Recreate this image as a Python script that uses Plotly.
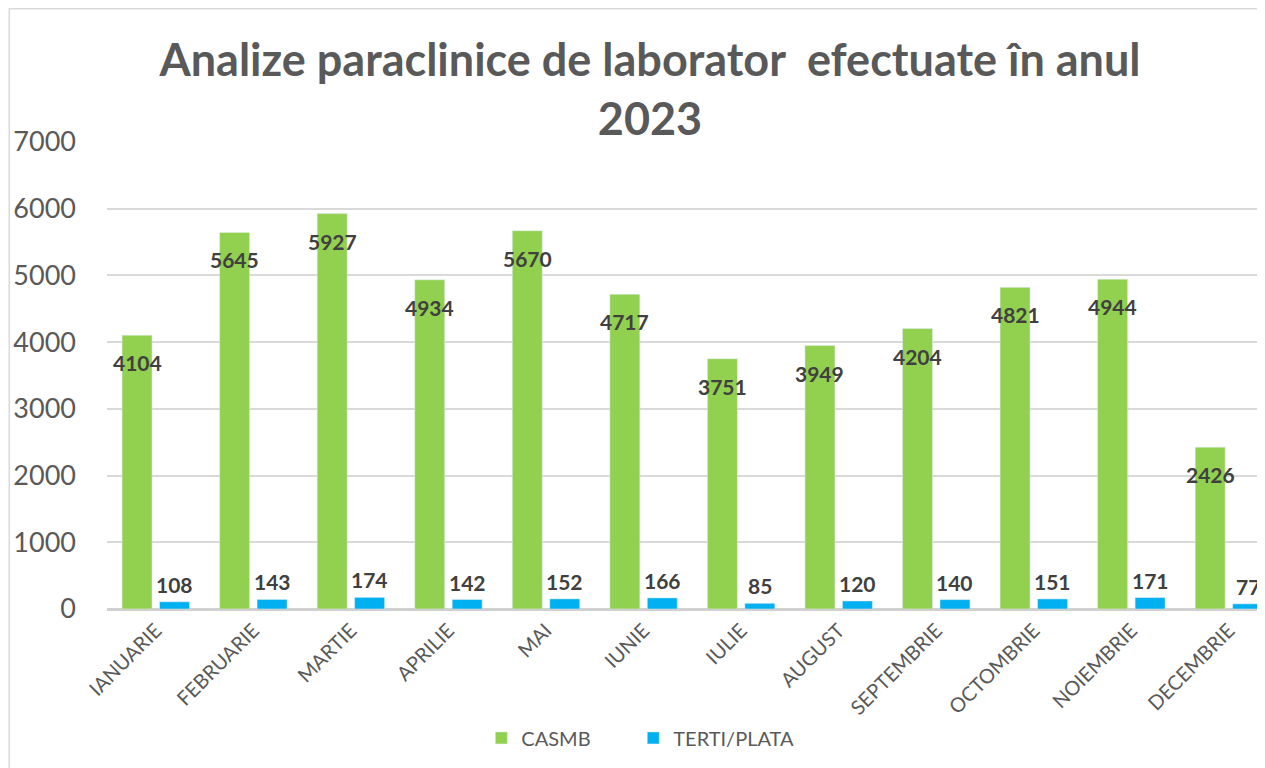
import plotly.graph_objects as go

# date
luni = ["IANUARIE", "FEBRUARIE", "MARTIE", "APRILIE", "MAI", "IUNIE",
        "IULIE", "AUGUST", "SEPTEMBRIE", "OCTOMBRIE", "NOIEMBRIE", "DECEMBRIE"]
casmb = [4104, 5645, 5927, 4934, 5670, 4717, 3751, 3949, 4204, 4821, 4944, 2426]
terti_plata = [108, 143, 174, 142, 152, 166, 85, 120, 140, 151, 171, 77]
y_ticks = [0, 1000, 2000, 3000, 4000, 5000, 6000, 7000]

VERDE = "#92D050"
ALBASTRU = "#00B0F0"
GRI = "#595959"
FONT = "Lato"

# pagina are margine de 8px in browser, deci figura e mai mica cu 8px
W, H = 1257, 760
ML, MT, MB = 98.5, 134, 159
PW, PH = W - ML, H - MT - MB

fig = go.Figure()

fig.add_trace(go.Bar(x=luni, y=casmb, name="CASMB", showlegend=True,
                     marker=dict(color=VERDE)))
fig.add_trace(go.Bar(x=luni, y=terti_plata, name="TERTI/PLATA", showlegend=True,
                     marker=dict(color=ALBASTRU), legend="legend2"))

# etichete valori
adnotari = []
for luna, v in zip(luni, casmb):
    adnotari.append(dict(
        x=luna, y=v, xref="x", yref="y", text=f"<b>{v}</b>", showarrow=False,
        xshift=-18.7, yanchor="top", yshift=-13,
        font=dict(family=FONT, size=21, color="#404040")
    ))
for luna, v in zip(luni, terti_plata):
    adnotari.append(dict(
        x=luna, y=v, xref="x", yref="y", text=f"<b>{v}</b>", showarrow=False,
        xshift=18.7, yanchor="bottom", yshift=3,
        font=dict(family=FONT, size=21, color="#404040")
    ))

legenda = dict(
    orientation="h",
    y=-0.276, yanchor="middle", xanchor="left",
    font=dict(family=FONT, size=20, color=GRI),
    bgcolor="rgba(0,0,0,0)",
)

fig.update_layout(
    width=W,
    height=H,
    margin=dict(l=ML, r=0, t=MT, b=MB),
    paper_bgcolor="white",
    plot_bgcolor="white",
    font=dict(family=FONT, color=GRI),
    showlegend=True,
    title=dict(
        text="<b>Analize paraclinice de laborator  efectuate în anul<br>2023</b>",
        x=642 / W, xanchor="center",
        y=1 - 68 / H, yanchor="top",
        font=dict(family=FONT, size=45, color=GRI)
    ),
    barmode="group",
    bargap=0.232,
    bargroupgap=0.2,
    xaxis=dict(
        range=[-0.5, -0.5 + PW / 97.6],
        tickangle=-45,
        tickfont=dict(family=FONT, size=20, color=GRI),
        showgrid=False,
        showline=False,
        ticks="",
        ticklabelstandoff=5,
    ),
    yaxis=dict(
        range=[0, 7000],
        tickvals=y_ticks,
        tickfont=dict(family=FONT, size=27, color=GRI),
        gridcolor="#D9D9D9",
        gridwidth=1.5,
        zeroline=True,
        zerolinecolor="#D0D0D0",
        zerolinewidth=2.5,
        showline=False,
        ticks="",
        ticklabelstandoff=30,
    ),
    legend=dict(legenda, x=(481 - 8 - ML) / PW),
    legend2=dict(legenda, x=(633 - 8 - ML) / PW),
    annotations=adnotari,
    shapes=[dict(
        type="rect", xref="paper", yref="paper",
        x0=(0.75 - ML) / PW, x1=1.05, y0=-0.36, y1=(PH + MT - 0.75) / PH,
        line=dict(color="#D9D9D9", width=1.5), layer="below"
    )],
)

fig.write_html("out.html")
